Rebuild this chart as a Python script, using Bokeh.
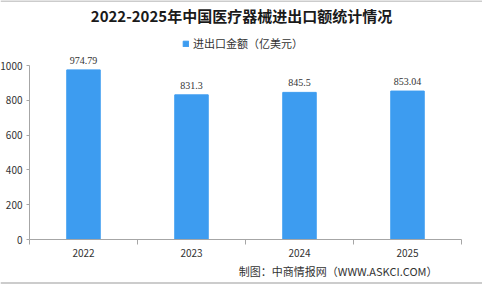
from bokeh.plotting import figure
from bokeh.models import FixedTicker, Label, LabelSet, ColumnDataSource, Range1d, Span
from bokeh.embed import file_html
from bokeh.resources import INLINE

years = ["2022", "2023", "2024", "2025"]
values = [974.79, 831.3, 845.5, 853.04]
value_labels = ["974.79", "831.3", "845.5", "853.04"]
y_ticks = [0, 200, 400, 600, 800, 1000]

title_text = "2022-2025年中国医疗器械进出口额统计情况"
series_name = "进出口金额（亿美元）"
source_text = "制图：中商情报网（WWW.ASKCI.COM）"

FONT = "Noto Sans CJK SC"
BAR = "#3d9cf0"
AX = "#a6a6a6"

W, H = 482, 284
# plot-area geometry in canvas pixels
left_px, right_px, top_px, bottom_px = 29, 461, 65, 239
ymax = y_ticks[-1]
n = len(years)
ux = (right_px - left_px) / n          # px per category
uy = (bottom_px - top_px) / ymax       # px per value unit
x0 = -left_px / ux
x1 = n + (W - right_px) / ux
y0 = -(H - bottom_px) / uy
y1 = bottom_px / uy

xs = [i + 0.5 for i in range(n)]
src = ColumnDataSource(dict(x=xs, top=values, lab=value_labels))

p = figure(width=W, height=H, output_backend="svg", toolbar_location=None,
           x_range=Range1d(x0, x1), y_range=Range1d(y0, y1),
           min_border=0)
p.outline_line_color = None
p.xgrid.visible = False
p.ygrid.visible = False

p.vbar(x="x", top="top", width=0.31, source=src, color=BAR, legend_label=series_name)
p.add_layout(LabelSet(x="x", y="top", text="lab", source=src, text_align="center",
                      text_baseline="bottom", y_offset=6, text_font_size="10px",
                      text_color="#333333", text_font=FONT))

xa = p.xaxis[0]
xa.fixed_location = 0
xa.bounds = (0, n)
xa.ticker = FixedTicker(ticks=xs, minor_ticks=list(range(n + 1)))
xa.major_label_overrides = {x: y for x, y in zip(xs, years)}
xa.major_tick_line_color = None
xa.minor_tick_line_color = AX
xa.minor_tick_out = 5
xa.minor_tick_in = 0
xa.axis_line_color = AX
xa.major_label_text_font = FONT
xa.major_label_text_font_size = "10px"
xa.major_label_text_color = "#333333"
xa.major_label_standoff = 3

ya = p.yaxis[0]
ya.fixed_location = 0
ya.bounds = (0, ymax)
ya.ticker = FixedTicker(ticks=y_ticks)
ya.axis_line_color = AX
ya.major_tick_line_color = AX
ya.major_tick_out = 3
ya.major_tick_in = 0
ya.minor_tick_line_color = None
ya.major_label_text_font = FONT
ya.major_label_text_font_size = "10px"
ya.major_label_text_color = "#333333"
ya.major_label_standoff = 4

leg = p.legend[0]
leg.location = (182, 233)
leg.border_line_color = None
leg.background_fill_alpha = 0
leg.label_text_font = FONT
leg.label_text_font_size = "11px"
leg.label_text_color = "#333333"
leg.glyph_width = 7
leg.glyph_height = 7
leg.label_standoff = 4
leg.padding = 0
leg.margin = 0
leg.label_height = 12

p.add_layout(Label(x=241, y=H - 15, x_units="screen", y_units="screen", text=title_text,
                   text_font=FONT, text_font_style="bold", text_font_size="15px",
                   text_align="center", text_baseline="middle", text_color="#1a1a1a"))
p.add_layout(Label(x=437, y=H - 270, x_units="screen", y_units="screen", text=source_text,
                   text_font=FONT, text_font_size="11px",
                   text_align="right", text_baseline="middle", text_color="#333333"))

p.add_layout(Span(location=y1 - 0.5 / uy, dimension="width", line_color="#999999", line_width=1))
p.add_layout(Span(location=y0 + 1.5 / uy, dimension="width", line_color="#999999", line_width=1))

open("out.html", "w").write(file_html(p, INLINE))
